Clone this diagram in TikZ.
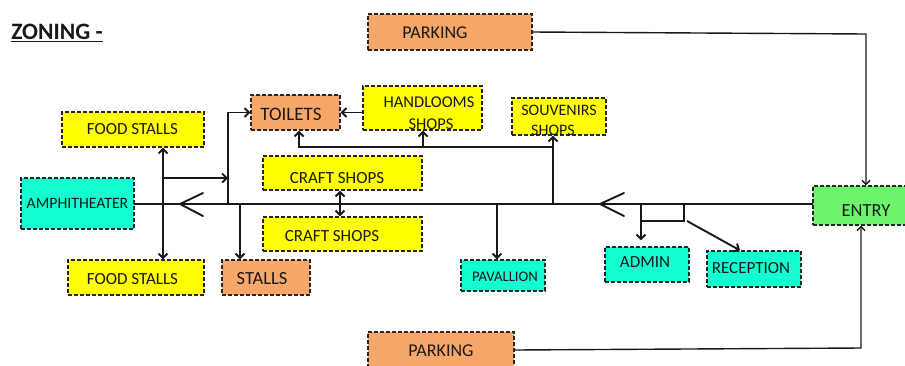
\documentclass[tikz,border=0pt]{standalone}
\usepackage{fontspec}
\setmainfont{Carlito}
\usetikzlibrary{arrows.meta,calc}
\definecolor{cyel}{HTML}{FFFF00}
\definecolor{corg}{HTML}{F7A769}
\definecolor{cteal}{HTML}{12FFD2}
\definecolor{cgrn}{HTML}{6CF56C}
\newcommand{\fs}[1]{\fontsize{#1}{#1}\selectfont}
\begin{document}
\begin{tikzpicture}[x=1pt,y=-1pt,
  zbox/.style={draw=black!85,line width=1.3pt,dash pattern=on 4pt off 2pt,inner sep=0pt,text=black!90},
  ztext/.style={inner sep=0pt,text=black!90},
  conn/.style={line width=1.9pt,black!90},
  thin conn/.style={line width=1.4pt,black!90},
  arr/.style={conn,-{Straight Barb[length=4.5pt,width=9pt]}},
  tarr/.style={thin conn,-{Straight Barb[length=4pt,width=8pt]}},
  darr/.style={conn,{Straight Barb[length=4.5pt,width=9pt]}-{Straight Barb[length=4.5pt,width=9pt]}},
  chev/.style={line width=1.9pt,black!90,line cap=round}]
\useasboundingbox (0,0) rectangle (905,365);
% title
\node[ztext,font=\fs{23.5}\bfseries] (title) at (57,33) {\underline{ZONING -}};
% boxes
\node[zbox,fill=corg,minimum width=164,minimum height=36] (park1) at (450,32) {};
\node[ztext,font=\fs{18}] (park1t) at (435,33) {PARKING};
\node[zbox,fill=corg,minimum width=146,minimum height=36] (park2) at (441,350) {};
\node[ztext,font=\fs{18}] (park2t) at (441,351) {PARKING};
\node[zbox,fill=cgrn,minimum width=94,minimum height=39] (entry) at (860,205.5) {};
\node[ztext,font=\fs{18.5}] (entryt) at (866,211) {ENTRY};
\node[zbox,fill=cteal,minimum width=113,minimum height=51] (amph) at (77.5,203.5) {};
\node[ztext,font=\fs{15.8}] (ampht) at (77.5,203) {AMPHITHEATER};
\node[zbox,fill=cyel,minimum width=142,minimum height=35] (fs1) at (133,129.5) {};
\node[ztext,font=\fs{17}] (fs1t) at (132.5,129.5) {FOOD STALLS};
\node[zbox,fill=cyel,minimum width=136,minimum height=35] (fs2) at (136,277.5) {};
\node[ztext,font=\fs{17}] (fs2t) at (132.5,279) {FOOD STALLS};
\node[zbox,fill=corg,minimum width=89,minimum height=35] (toilets) at (295.5,112.5) {};
\node[ztext,font=\fs{19}] (toiletst) at (291,114) {TOILETS};
\node[zbox,fill=cyel,minimum width=119,minimum height=44] (hand) at (422.5,108) {};
\node[ztext,font=\fs{16.5}] (handt1) at (429,102) {HANDLOOMS};
\node[ztext,font=\fs{16.5}] (handt2) at (431,124) {SHOPS};
\node[zbox,fill=cyel,minimum width=94,minimum height=37] (souv) at (559,116.5) {};
\node[ztext,font=\fs{16}] (souvt1) at (559,110) {SOUVENIRS};
\node[ztext,font=\fs{16}] (souvt2) at (553,130) {SHOPS};
\node[zbox,fill=cyel,minimum width=159,minimum height=34] (craft1) at (342.5,173) {};
\node[ztext,font=\fs{17}] (craft1t) at (337,178) {CRAFT SHOPS};
\node[zbox,fill=cyel,minimum width=159,minimum height=34] (craft2) at (342.5,234) {};
\node[ztext,font=\fs{17}] (craft2t) at (332,236) {CRAFT SHOPS};
\node[zbox,fill=corg,minimum width=88,minimum height=35] (stalls) at (266,277.5) {};
\node[ztext,font=\fs{18.5}] (stallst) at (262,279) {STALLS};
\node[zbox,fill=cteal,minimum width=84,minimum height=31] (pav) at (503,275.5) {};
\node[ztext,font=\fs{14.7}] (pavt) at (505,277) {PAVALLION};
\node[zbox,fill=cteal,minimum width=84,minimum height=35] (admin) at (647,264.5) {};
\node[ztext,font=\fs{17}] (admint) at (645,262) {ADMIN};
\node[zbox,fill=cteal,minimum width=94,minimum height=36] (recep) at (754,269) {};
\node[ztext,font=\fs{17}] (recept) at (751,268) {RECEPTION};
% junction coordinates on main line
\coordinate (m0) at (134,204);
\coordinate (mE) at (813,204);
\coordinate (jT) at (228,204);
\coordinate (jF1) at (163,178);
\coordinate (jF2) at (228,178);
\coordinate (jS) at (553,204);
\coordinate (jS2) at (553,147);
\coordinate (jH) at (423,147);
\coordinate (jC) at (340,0);
\coordinate (jSt) at (240,204);
\coordinate (jP) at (497,204);
\coordinate (jA) at (641,204);
\coordinate (jA2) at (641,221);
\coordinate (jR) at (684,204);
\coordinate (jR2) at (684,221);
\coordinate (jR3) at (687,221);
\coordinate (pk1) at (866,34);
\coordinate (pk2) at (861,348);
% connectors
\draw[tarr] (park1.east |- 0,32) -- (pk1) -- (pk1 |- entry.north);
\draw[tarr] (park2.east |- 0,350) -- (pk2) -- (pk2 |- entry.south);
\draw[conn] (m0) -- (mE);
\draw[chev] (203,193) -- (180,204) -- (203,216);
\draw[chev] (624,193) -- (600,204) -- (624,216);
\draw[darr] (fs1.south -| jF1) -- (fs2.north -| jF1);
\draw[arr] (jF1) -- (jF2);
\draw[arr] (jT) |- (toilets.west);
\draw[arr] (hand.west |- toilets.east) -- (toilets.east);
\draw[arr] (jS) -- (jS |- souv.south);
\draw[arr] (jS2) -| ([xshift=3.5pt]toilets.south);
\draw[arr] (jH) -- (jH |- hand.south);
\draw[darr] (craft1.south -| jC) -- (craft2.north -| jC);
\draw[arr] (jSt) -- (jSt |- stalls.north);
\draw[arr] (jP) -- (jP |- pav.north);
\draw[arr,shorten >=6pt] (jA) -- (jA |- admin.north);
\draw[conn] (jA2) -- (jR2) -- (jR);
\draw[arr] (jR3) -- ([xshift=-14pt]recep.north);
\end{tikzpicture}
\end{document}
